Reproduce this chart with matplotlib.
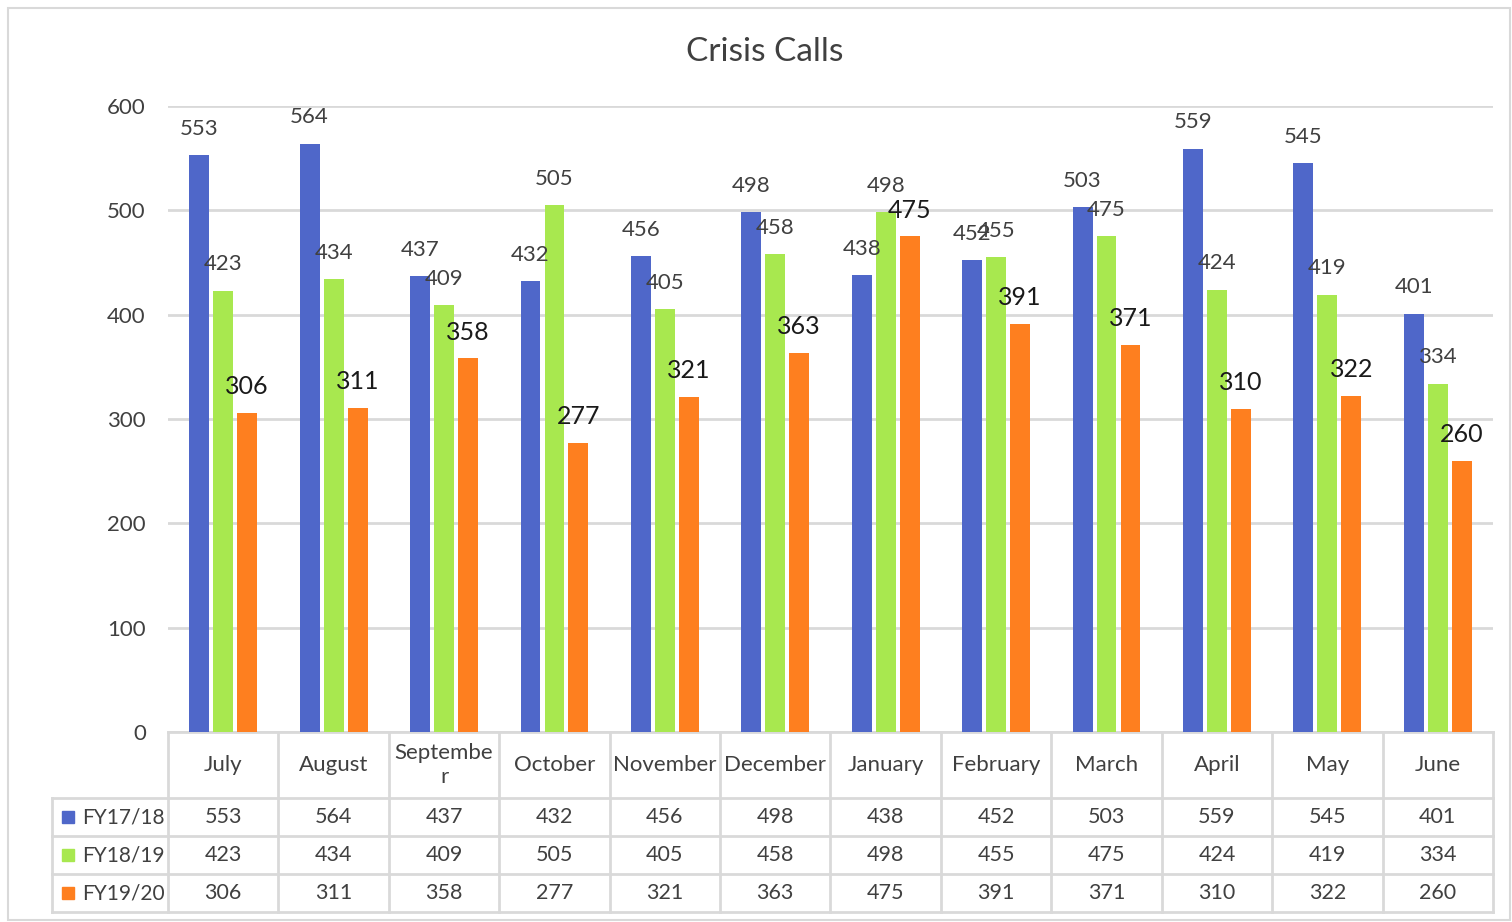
import matplotlib.pyplot as plt
import matplotlib.transforms as mtransforms
from matplotlib.patches import Rectangle

plt.rcParams["font.family"] = ["Lato", "DejaVu Sans"]

months = ["July", "August", "Septembe\nr", "October", "November", "December",
          "January", "February", "March", "April", "May", "June"]
fy1718 = [553, 564, 437, 432, 456, 498, 438, 452, 503, 559, 545, 401]
fy1819 = [423, 434, 409, 505, 405, 458, 498, 455, 475, 424, 419, 334]
fy1920 = [306, 311, 358, 277, 321, 363, 475, 391, 371, 310, 322, 260]
series_names = ["FY17/18", "FY18/19", "FY19/20"]
series = [fy1718, fy1819, fy1920]
colors = ["#4F67C9", "#A8E84F", "#FE7F1F"]
label_colors = ["#404040", "#404040", "#1a1a1a"]
label_sizes = [16, 16, 18]

W, H = 1512, 922
GRID = "#d9d9d9"
TXT = "#404040"


def fy(py):
    return 1 - py / H


fig = plt.figure(figsize=(W / 100, H / 100), dpi=100)
fig.patch.set_facecolor("white")

# outer chart border
fig.add_artist(Rectangle((8 / W, fy(920)), (W - 10) / W, (920 - 8) / H,
                         transform=fig.transFigure, fill=False,
                         edgecolor=GRID, lw=1.5))

ax = fig.add_axes([168 / W, fy(732), (1493 - 168) / W, (732 - 106) / H])
n = len(months)
x = list(range(n))
offsets = [-0.217, 0.0, 0.217]
width = 0.18

for vals, off, c, lc, ls in zip(series, offsets, colors, label_colors, label_sizes):
    xs = [i + off for i in x]
    ax.bar(xs, vals, width=width, color=c, zorder=3)
    for xi, v in zip(xs, vals):
        ax.annotate(str(v), (xi, v), xytext=(0, 19), textcoords="offset points",
                    ha="center", va="center", fontsize=ls, color=lc, zorder=4)

ax.set_xlim(-0.5, n - 0.5)
ax.set_ylim(0, 600)
ax.set_yticks(range(0, 601, 100))
ax.tick_params(axis="y", length=0, labelsize=16, labelcolor=TXT, pad=16)
ax.set_xticks([])
ax.grid(axis="y", color=GRID, lw=2, zorder=0)
for s in ax.spines.values():
    s.set_visible(False)

fig.text(765 / W, fy(52), "Crisis Calls", fontsize=24, color=TXT,
         ha="center", va="center")

# data table under the plot
tr = mtransforms.blended_transform_factory(ax.transData, fig.transFigure)
left_x = -0.5 - (168 - 52) / ((1493 - 168) / n)
row_y = [732, 798, 836, 874, 912]

# horizontal lines
ax.plot([-0.5, n - 0.5], [fy(732)] * 2, transform=tr, color=GRID, lw=2, clip_on=False)
for py in row_y[1:]:
    ax.plot([left_x, n - 0.5], [fy(py)] * 2, transform=tr, color=GRID, lw=2, clip_on=False)
# vertical lines
for i in range(n + 1):
    ax.plot([i - 0.5] * 2, [fy(732), fy(912)], transform=tr, color=GRID, lw=2, clip_on=False)
ax.plot([left_x] * 2, [fy(798), fy(912)], transform=tr, color=GRID, lw=2, clip_on=False)

for i, m in enumerate(months):
    ax.text(i, fy(765), m, transform=tr, ha="center", va="center",
            fontsize=16, color=TXT, linespacing=1.25)

row_centers = [817, 855, 893]
for name, vals, c, py in zip(series_names, series, colors, row_centers):
    ax.add_artist(Rectangle((left_x + 0.09, fy(py) - 6 / H), 12 / ((1493 - 168) / n), 12 / H,
                            transform=tr, color=c, clip_on=False))
    ax.text(left_x + 0.27, fy(py), name, transform=tr, ha="left", va="center",
            fontsize=15, color=TXT)
    for i, v in enumerate(vals):
        ax.text(i, fy(py), str(v), transform=tr, ha="center", va="center",
                fontsize=15.5, color=TXT)

fig.savefig("out.png", dpi=100)
